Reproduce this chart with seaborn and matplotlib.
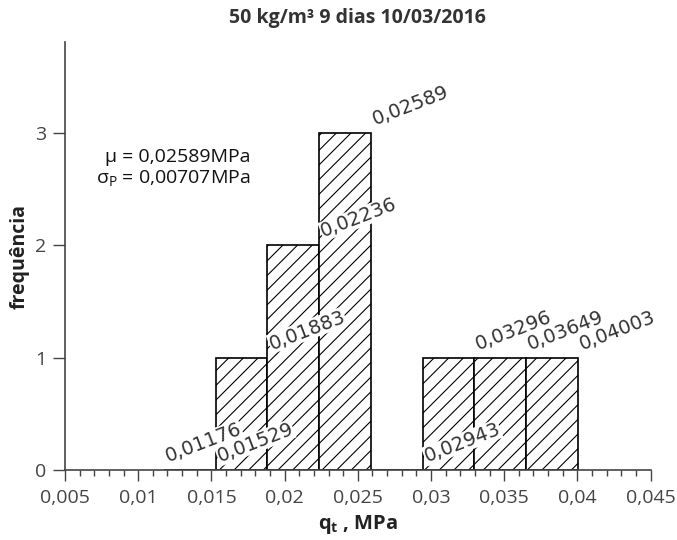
import seaborn as sns
import matplotlib.pyplot as plt
from matplotlib.ticker import MultipleLocator, FuncFormatter

# bin edges (MPa) and counts per bin
bin_edges = [0.01176, 0.01529, 0.01883, 0.02236, 0.02589, 0.02943, 0.03296, 0.03649, 0.04003]
counts = [0, 1, 2, 3, 0, 1, 1, 1]
edge_labels = ["0,01176", "0,01529", "0,01883", "0,02236", "0,02589", "0,02943", "0,03296", "0,03649", "0,04003"]
mean_text = "\u03bc = 0,02589MPa"
std_text = "\u03c3$_\\mathregular{P}$ = 0,00707MPa"
title = "50 kg/m\u00b3 9 dias 10/03/2016"

# lower dpi so the hatch gets a bit denser; sizes below are scaled back
DPI = 88
k = 100 / DPI

sns.set_style("ticks")
plt.rcParams['font.family'] = ['Open Sans', 'DejaVu Sans']
plt.rcParams['hatch.linewidth'] = 0.8 * k

fig = plt.figure(figsize=(677 / DPI, 540 / DPI), dpi=DPI)
ax = fig.add_axes([0.096, 0.1296, 0.865, 0.7926])

sns.histplot(x=bin_edges[:-1], weights=counts, bins=bin_edges, stat="count",
             color="white", edgecolor="black", linewidth=1.2 * k, alpha=1,
             hatch="//", ax=ax)

# edge value labels, sitting on the bar to the left of each edge
for i, lab in enumerate(edge_labels):
    h = counts[i - 1] if i > 0 else 0
    ax.annotate(lab, (bin_edges[i], h), xytext=(4 * k, 3 * k), textcoords="offset points",
                rotation=21, rotation_mode="anchor", ha="left", va="bottom",
                fontsize=14 * k, color="#333333", family="DejaVu Sans",
                bbox=dict(facecolor="white", edgecolor="none", pad=0.3))

ax.text(0.0177, 2.79, mean_text, ha="right", va="center", fontsize=14 * k, color="#111111")
ax.text(0.0177, 2.59, std_text, ha="right", va="center", fontsize=14 * k, color="#111111")

ax.set_xlim(0.005, 0.045)
ax.set_ylim(0, 3.81)
ax.xaxis.set_major_locator(MultipleLocator(0.005))
ax.xaxis.set_minor_locator(MultipleLocator(0.001))
ax.yaxis.set_major_locator(MultipleLocator(1))
ax.xaxis.set_major_formatter(FuncFormatter(lambda v, p: ("%g" % round(v, 4)).replace(".", ",")))
ax.tick_params(axis="x", which="major", length=8 * k, width=k, colors="#444444", labelsize=14 * k, pad=6 * k)
ax.tick_params(axis="x", which="minor", length=4.3 * k, width=k, colors="#444444")
ax.tick_params(axis="y", length=8.6 * k, width=k, colors="#444444", labelsize=14 * k, pad=5 * k)
for s in ["top", "right"]:
    ax.spines[s].set_visible(False)
for s in ["left", "bottom"]:
    ax.spines[s].set_color("#444444")
    ax.spines[s].set_linewidth(1.2 * k)

ax.set_xlabel("q$_\\mathregular{t}$ , MPa", fontsize=14.5 * k, fontweight="bold", color="#222222", labelpad=4 * k)
ax.set_ylabel("frequ\u00eancia", fontsize=14 * k, fontweight="bold", color="#222222", labelpad=4 * k)
ax.set_title(title, fontsize=14 * k, fontweight="bold", color="#333333", pad=14 * k)

fig.savefig("out.png", dpi=DPI)
